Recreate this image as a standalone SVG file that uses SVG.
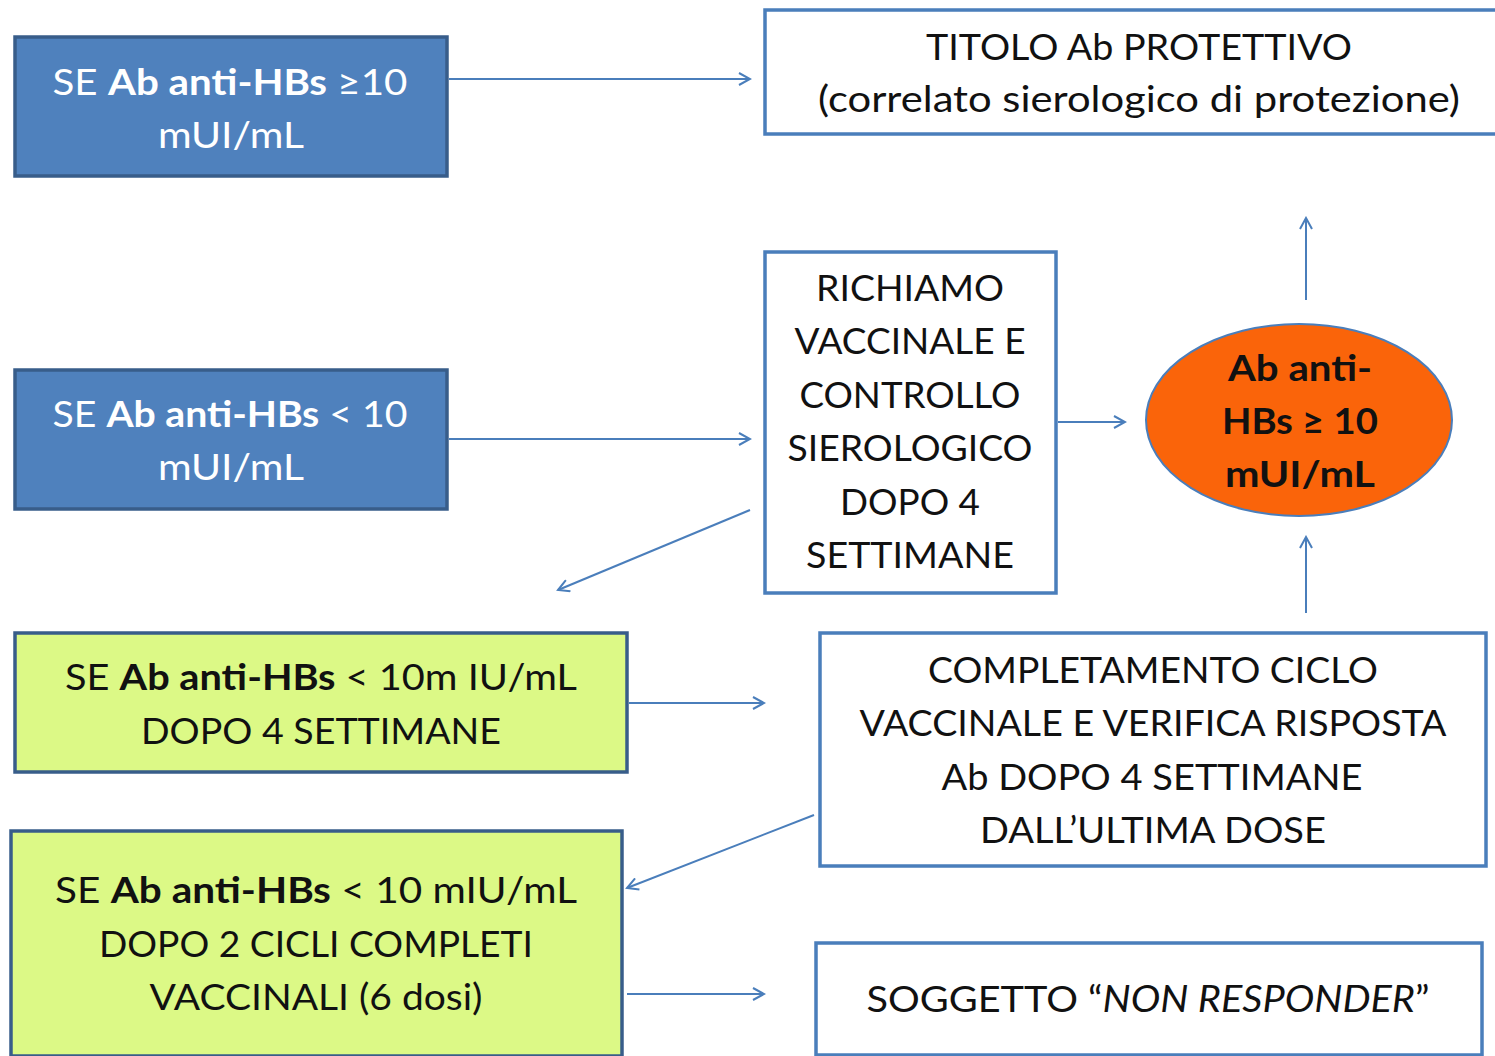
<svg xmlns="http://www.w3.org/2000/svg" width="1495" height="1056" viewBox="0 0 1495 1056">
<defs>
<marker id="ah" viewBox="0 0 14 14" refX="12" refY="7" markerWidth="14" markerHeight="14" markerUnits="userSpaceOnUse" orient="auto">
<path d="M1,1 L12,7 L1,13" fill="none" stroke="#4a7ebb" stroke-width="2"/>
</marker>
<style>
text{font-family:Lato,"Liberation Sans",sans-serif;font-size:37px;text-anchor:middle}
.blue{fill:#4f81bd;stroke:#385d8a;stroke-width:3.5}
.white{fill:#ffffff;stroke:#4a7ebb;stroke-width:3.5}
.green{fill:#dcf986;stroke:#385d8a;stroke-width:3.5}
.wt{fill:#ffffff}
.bt{fill:#111111}
.b{font-weight:bold}
.conn line{stroke:#4a7ebb;stroke-width:2;marker-end:url(#ah)}
</style>
</defs>
<rect width="1495" height="1056" fill="#ffffff"/>
<g id="n-ab-ge10">
<rect class="blue" x="15" y="37" width="432" height="139"/>
<text class="wt" x="230" y="95" textLength="355" lengthAdjust="spacingAndGlyphs">SE <tspan class="b">Ab anti-HBs</tspan>  ≥10</text>
<text class="wt" x="231" y="148" textLength="146" lengthAdjust="spacingAndGlyphs">mUI/mL</text>
</g>
<g id="n-titolo">
<rect class="white" x="765" y="10" width="735" height="124"/>
<text class="bt" x="1139" y="60" textLength="426" lengthAdjust="spacingAndGlyphs">TITOLO Ab PROTETTIVO</text>
<text class="bt" x="1139" y="112" textLength="642" lengthAdjust="spacingAndGlyphs">(correlato sierologico di protezione)</text>
</g>
<g id="n-ab-lt10">
<rect class="blue" x="15" y="370" width="432" height="139"/>
<text class="wt" x="230" y="427" textLength="355" lengthAdjust="spacingAndGlyphs">SE <tspan class="b">Ab anti-HBs</tspan> &lt; 10</text>
<text class="wt" x="231" y="480" textLength="146" lengthAdjust="spacingAndGlyphs">mUI/mL</text>
</g>
<g id="n-richiamo">
<rect class="white" x="765" y="252" width="291" height="341"/>
<text class="bt" x="910" y="301" textLength="188" lengthAdjust="spacingAndGlyphs">RICHIAMO</text>
<text class="bt" x="910" y="354" textLength="231" lengthAdjust="spacingAndGlyphs">VACCINALE E</text>
<text class="bt" x="910" y="408" textLength="221" lengthAdjust="spacingAndGlyphs">CONTROLLO</text>
<text class="bt" x="910" y="461" textLength="245" lengthAdjust="spacingAndGlyphs">SIEROLOGICO</text>
<text class="bt" x="910" y="515" textLength="140" lengthAdjust="spacingAndGlyphs">DOPO 4</text>
<text class="bt" x="910" y="568" textLength="208" lengthAdjust="spacingAndGlyphs">SETTIMANE</text>
</g>
<g id="n-ellipse">
<ellipse cx="1299" cy="420" rx="153" ry="96" fill="#fa640a" stroke="#4a7ebb" stroke-width="2"/>
<text class="bt b" x="1300" y="381" textLength="144" lengthAdjust="spacingAndGlyphs">Ab anti-</text>
<text class="bt b" x="1300" y="434" textLength="156" lengthAdjust="spacingAndGlyphs">HBs ≥ 10</text>
<text class="bt b" x="1300" y="487" textLength="150" lengthAdjust="spacingAndGlyphs">mUI/mL</text>
</g>
<g id="n-green1">
<rect class="green" x="15" y="633" width="612" height="139"/>
<text class="bt" x="321" y="690" textLength="512" lengthAdjust="spacingAndGlyphs">SE <tspan class="b">Ab anti-HBs</tspan> &lt; 10m IU/mL</text>
<text class="bt" x="321" y="744" textLength="360" lengthAdjust="spacingAndGlyphs">DOPO 4 SETTIMANE</text>
</g>
<g id="n-completamento">
<rect class="white" x="820" y="633" width="666" height="233"/>
<text class="bt" x="1153" y="683" textLength="450" lengthAdjust="spacingAndGlyphs">COMPLETAMENTO CICLO</text>
<text class="bt" x="1153" y="736" textLength="587" lengthAdjust="spacingAndGlyphs">VACCINALE E VERIFICA RISPOSTA</text>
<text class="bt" x="1152" y="790" textLength="421" lengthAdjust="spacingAndGlyphs">Ab DOPO 4 SETTIMANE</text>
<text class="bt" x="1153" y="843" textLength="346" lengthAdjust="spacingAndGlyphs">DALL’ULTIMA DOSE</text>
</g>
<g id="n-green2">
<rect class="green" x="11" y="831" width="611" height="225"/>
<text class="bt" x="316" y="903" textLength="522" lengthAdjust="spacingAndGlyphs">SE <tspan class="b">Ab anti-HBs</tspan>  &lt; 10 mIU/mL</text>
<text class="bt" x="316" y="957" textLength="434" lengthAdjust="spacingAndGlyphs">DOPO 2 CICLI COMPLETI</text>
<text class="bt" x="316" y="1010" textLength="333" lengthAdjust="spacingAndGlyphs">VACCINALI (6 dosi)</text>
</g>
<g id="n-nonresponder">
<rect class="white" x="816" y="943" width="666" height="112"/>
<text class="bt" x="1148" y="1012" textLength="563" lengthAdjust="spacingAndGlyphs">SOGGETTO “<tspan font-style="italic">NON RESPONDER</tspan>”</text>
</g>
<g id="connectors" class="conn">
<line x1="449" y1="79" x2="750" y2="79"/>
<line x1="449" y1="439" x2="750" y2="439"/>
<line x1="750" y1="510" x2="558" y2="590"/>
<line x1="1058" y1="422" x2="1125" y2="422"/>
<line x1="1306" y1="300" x2="1306" y2="218"/>
<line x1="1306" y1="613" x2="1306" y2="537"/>
<line x1="629" y1="703" x2="764" y2="703"/>
<line x1="814" y1="815" x2="627" y2="888"/>
<line x1="627" y1="994" x2="764" y2="994"/>
</g>
</svg>
